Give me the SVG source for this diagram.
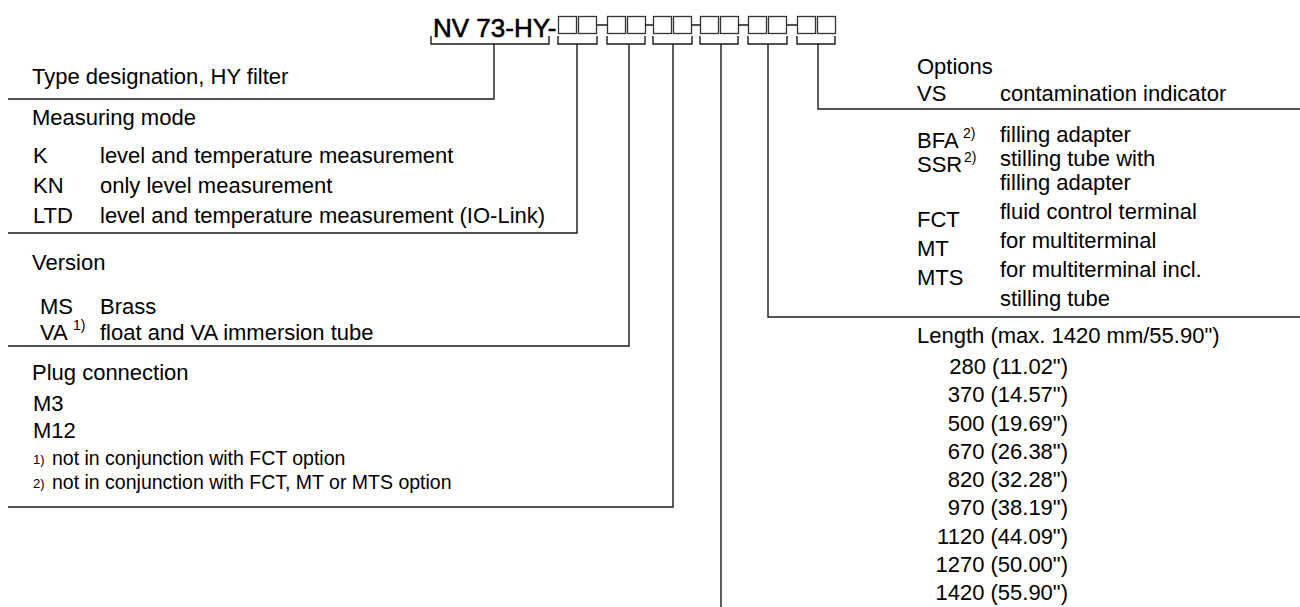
<svg xmlns="http://www.w3.org/2000/svg" width="1300" height="607" viewBox="0 0 1300 607">
<style>
text{font-family:"Liberation Sans",Arial,sans-serif;fill:#000}
.b{font-size:22px}
.h{font-size:26px;stroke:#000;stroke-width:0.6}
.s{font-size:14px}
.f{font-size:19.5px}
.fs{font-size:13px}
.ln{stroke:#1a1a1a;stroke-width:1.4;fill:none}
.bx{stroke:#333;stroke-width:1.3;fill:#fff}
</style>
<rect width="1300" height="607" fill="#fff"/>
<g id="header">
<text class="h" x="433" y="37">NV 73-HY-</text>
<rect class="bx" x="558.5" y="16.5" width="18" height="17"/><rect class="bx" x="578.5" y="16.5" width="18" height="17"/>
<rect class="bx" x="607.5" y="16.5" width="18" height="17"/><rect class="bx" x="627.5" y="16.5" width="18" height="17"/>
<rect class="bx" x="653.5" y="16.5" width="18" height="17"/><rect class="bx" x="673.5" y="16.5" width="18" height="17"/>
<rect class="bx" x="700.5" y="16.5" width="18" height="17"/><rect class="bx" x="720.5" y="16.5" width="18" height="17"/>
<rect class="bx" x="748.5" y="16.5" width="18" height="17"/><rect class="bx" x="768.5" y="16.5" width="18" height="17"/>
<rect class="bx" x="797.5" y="16.5" width="18" height="17"/><rect class="bx" x="817.5" y="16.5" width="18" height="17"/>
<path class="ln" stroke-width="2" d="M597 25H607M645 25H653M692 25H700M738 25H748M787 25H797"/>
</g>
<g id="connectors">
<path class="ln" d="M431 36V44H549V36M558 36V44H597V36M607 36V44H645V36M653 36V44H692V36M700 36V44H738V36M748 36V44H787V36M797 36V44H835V36"/>
<path class="ln" d="M494 44V99H8"/>
<path class="ln" d="M577 44V233H8"/>
<path class="ln" d="M629 44V346H8"/>
<path class="ln" d="M673 44V507H8"/>
<path class="ln" d="M721 44V607"/>
<path class="ln" d="M768 44V317H1300"/>
<path class="ln" d="M818 44V109H1300"/>
</g>
<g id="type">
<text class="b" x="32" y="84">Type designation, HY filter</text>
</g>
<g id="measuring">
<text class="b" x="32" y="125">Measuring mode</text>
<text class="b" x="33" y="163">K</text><text class="b" x="100" y="163">level and temperature measurement</text>
<text class="b" x="33" y="193">KN</text><text class="b" x="100" y="193">only level measurement</text>
<text class="b" x="33" y="223">LTD</text><text class="b" x="100" y="223">level and temperature measurement (IO-Link)</text>
</g>
<g id="version">
<text class="b" x="32" y="270">Version</text>
<text class="b" x="40" y="314">MS</text><text class="b" x="100" y="314">Brass</text>
<text class="b" x="40" y="340">VA</text><text class="s" x="73" y="330">1)</text><text class="b" x="100" y="340">float and VA immersion tube</text>
</g>
<g id="plug">
<text class="b" x="32" y="380">Plug connection</text>
<text class="b" x="33" y="411">M3</text>
<text class="b" x="33" y="438">M12</text>
<text class="fs" x="33" y="464">1)</text><text class="f" x="52" y="465">not in conjunction with FCT option</text>
<text class="fs" x="33" y="488">2)</text><text class="f" x="52" y="489">not in conjunction with FCT, MT or MTS option</text>
</g>
<g id="options">
<text class="b" x="917" y="74">Options</text>
<text class="b" x="917" y="101">VS</text><text class="b" x="1000" y="101">contamination indicator</text>
<text class="b" x="917" y="148">BFA</text><text class="s" x="963" y="138">2)</text><text class="b" x="1000" y="142">filling adapter</text>
<text class="b" x="917" y="172">SSR</text><text class="s" x="964" y="162">2)</text><text class="b" x="1000" y="166">stilling tube with</text>
<text class="b" x="1000" y="190">filling adapter</text>
<text class="b" x="917" y="227">FCT</text><text class="b" x="1000" y="219">fluid control terminal</text>
<text class="b" x="917" y="256">MT</text><text class="b" x="1000" y="248">for multiterminal</text>
<text class="b" x="917" y="285">MTS</text><text class="b" x="1000" y="277">for multiterminal incl.</text>
<text class="b" x="1000" y="306">stilling tube</text>
</g>
<g id="length">
<text class="b" x="917" y="343">Length (max. 1420 mm/55.90")</text>
<g text-anchor="end">
<text class="b" x="1068" y="374">280 (11.02")</text>
<text class="b" x="1068" y="402">370 (14.57")</text>
<text class="b" x="1068" y="431">500 (19.69")</text>
<text class="b" x="1068" y="459">670 (26.38")</text>
<text class="b" x="1068" y="487">820 (32.28")</text>
<text class="b" x="1068" y="515">970 (38.19")</text>
<text class="b" x="1068" y="544">1120 (44.09")</text>
<text class="b" x="1068" y="572">1270 (50.00")</text>
<text class="b" x="1068" y="600">1420 (55.90")</text>
</g>
</g>
</svg>
